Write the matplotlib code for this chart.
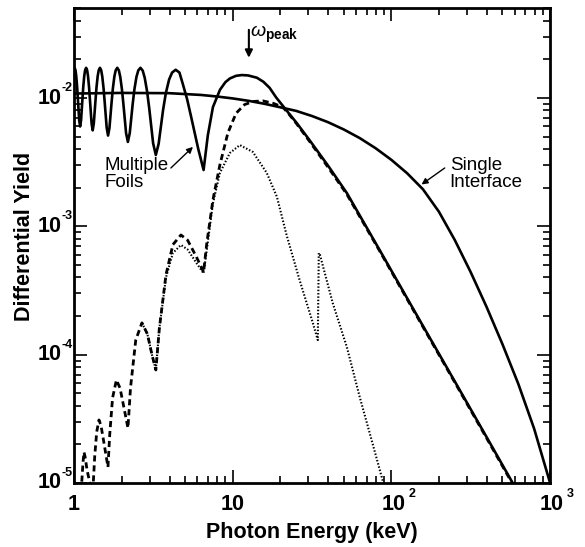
import matplotlib
matplotlib.use("Agg")
import matplotlib.pyplot as plt
from matplotlib.ticker import FixedLocator, LogLocator, NullFormatter

plt.rcParams['font.family'] = ['Liberation Sans', 'DejaVu Sans']
plt.rcParams['mathtext.fontset'] = 'custom'
plt.rcParams['mathtext.rm'] = 'Liberation Sans'
plt.rcParams['mathtext.it'] = 'Liberation Sans:italic'
plt.rcParams['mathtext.bf'] = 'Liberation Sans:bold'

# ---------------- data ----------------
# single interface (smooth solid)
single_x = [1.0, 2.0, 3.98, 6.31, 7.94, 10.0, 12.59, 15.85, 19.95, 25.12, 31.62,
            39.81, 50.12, 63.1, 79.43, 100.0, 125.9, 158.5, 199.5, 251.2, 316.2,
            398.1, 501.2, 631.0, 794.3, 1000.0]
single_y = [0.01084, 0.01096, 0.01091, 0.01057, 0.01028, 0.00993, 0.00951, 0.00902,
            0.00847, 0.00794, 0.00724, 0.00649, 0.00569, 0.00488, 0.00407, 0.00330,
            0.00259, 0.00194, 0.00130, 7.82e-4, 4.40e-4, 2.36e-4, 1.21e-4, 5.93e-5,
            2.65e-5, 1.007e-5]

# multiple foils (oscillating solid)
multi_x = [1.000, 1.0089, 1.0215, 1.0326, 1.0458, 1.0576, 1.0785, 1.0929,
           1.1077, 1.1306, 1.1444, 1.1606, 1.1752, 1.1923, 1.2099, 1.2256, 1.2442,
           1.2610, 1.2908, 1.3115,
           1.3328, 1.3661, 1.3864, 1.4102, 1.4318, 1.4573, 1.4837, 1.5074, 1.5356,
           1.5613, 1.6072, 1.6393,
           1.6728, 1.7256, 1.7581, 1.7966, 1.8318, 1.8737, 1.9175, 1.9573, 2.0052,
           2.0492, 2.1290, 2.1858,
           2.2457, 2.3419, 2.4021, 2.4746, 2.5419, 2.6233, 2.7100, 2.7902, 2.8885,
           2.9806, 3.1526, 3.2787,
           3.4153, 3.6430, 3.7908, 3.9746, 4.1511, 4.3725, 4.6189, 4.8567, 5.1626,
           5.4645, 6.0716, 6.5574,
           6.97, 7.51, 8.32, 9.0, 9.6, 10.5, 11.4, 12.5, 14.2, 15.6, 17.1, 18.8,
           20.7, 22.8, 25.3, 30.5, 40.0, 52.4, 84.6, 150.0, 250.0, 400.0, 582.0, 620.0]
multi_y = [0.01684, 0.0172, 0.01651, 0.01490, 0.01230, 0.00987, 0.00669, 0.0060,
           0.00669, 0.00987, 0.01230, 0.01490, 0.01651, 0.0172, 0.01648, 0.01481, 0.01213,
           0.00960, 0.00633, 0.0056,
           0.00633, 0.00960, 0.01213, 0.01481, 0.01648, 0.0172, 0.01645, 0.01471, 0.01190,
           0.00927, 0.00585, 0.0051,
           0.00585, 0.00927, 0.01190, 0.01471, 0.01645, 0.0172, 0.01642, 0.01459, 0.01166,
           0.00891, 0.00533, 0.00455,
           0.00533, 0.00891, 0.01166, 0.01459, 0.01642, 0.0172, 0.01636, 0.01440, 0.01125,
           0.00829, 0.00444, 0.0036,
           0.0044, 0.00808, 0.01091, 0.01392, 0.01579, 0.0166, 0.0158, 0.0128, 0.0098,
           0.0072, 0.0040, 0.00275,
           0.0051, 0.0085, 0.0116, 0.0133, 0.0142, 0.0149, 0.0151, 0.0150, 0.0144, 0.0134,
           0.0120, 0.0101, 0.0087, 0.0075, 0.0064, 0.0047, 0.00296, 0.00182, 6.5e-4,
           1.88e-4, 6.25e-5, 2.26e-5, 1.0e-5, 8.8e-6]

# dashed curve
dash_x = [1.093, 1.118, 1.14, 1.156, 1.175, 1.21, 1.26, 1.311, 1.323, 1.35, 1.39,
          1.437, 1.48, 1.55, 1.637, 1.68, 1.75, 1.85, 1.95, 2.07, 2.188, 2.27,
          2.45, 2.68, 2.9, 3.1, 3.28, 3.45, 3.8, 4.2, 4.72, 5.2, 5.9, 6.557,
          6.87, 7.51, 8.3, 9.33, 10.5, 11.9, 13.5, 15.5, 18.0, 20.7, 22.8, 25.3, 30.5,
          40.0, 52.4, 84.6, 150.0, 250.0, 400.0, 582.0, 620.0]
dash_y = [5e-6, 1.0e-5, 1.45e-5, 1.74e-5, 1.6e-5, 1.25e-5, 1.0e-5, 5e-6, 1.0e-5,
          1.6e-5, 2.5e-5, 3.1e-5, 2.8e-5, 2.0e-5, 1.33e-5, 2.4e-5, 4.6e-5, 6.35e-5,
          5.5e-5, 3.8e-5, 2.68e-5, 5.5e-5, 1.3e-4, 1.77e-4, 1.45e-4, 1.0e-4, 7.6e-5,
          1.6e-4, 4.2e-4, 7.2e-4, 8.57e-4, 7.8e-4, 5.8e-4, 4.41e-4,
          7.4e-4, 1.61e-3, 3.0e-3, 5.35e-3, 7.6e-3, 8.9e-3, 9.4e-3, 9.5e-3, 9.1e-3,
          8.5e-3, 7.4e-3, 6.3e-3, 4.6e-3, 2.88e-3, 1.78e-3, 6.4e-4, 1.85e-4, 6.15e-5,
          2.22e-5, 0.98e-5, 8.6e-6]

# dotted curve
dot_x = [2.68, 2.9, 3.1, 3.28, 3.45, 3.8, 4.2, 4.72, 5.2, 5.9, 6.557, 6.87, 7.5,
         8.31, 9.6, 11.1, 13.4, 16.4, 19.0, 21.9, 26.4, 32.0, 34.4, 34.9, 35.5,
         42.7, 52.4, 63.2, 76.0, 88.1, 92.0]
dot_y = [1.77e-4, 1.45e-4, 1.0e-4, 7.6e-5, 1.6e-4, 4.0e-4, 6.2e-4, 7.16e-4, 6.6e-4,
         5.2e-4, 4.3e-4, 6.55e-4, 1.5e-3, 2.61e-3, 3.73e-3, 4.3e-3, 3.8e-3, 2.61e-3,
         1.70e-3, 8.5e-4, 3.82e-4, 1.77e-4, 1.30e-4, 6.2e-4, 6.0e-4, 2.53e-4,
         1.15e-4, 4.68e-5, 2.05e-5, 1.05e-5, 8.5e-6]

x_ticks = [1, 10, 100, 1000]
x_tick_base = ['1', '10', '10', '10']
x_tick_exp = ['', '', '2', '3']
y_ticks = [1e-5, 1e-4, 1e-3, 1e-2]
y_tick_base = ['10', '10', '10', '10']
y_tick_exp = ['-5', '-4', '-3', '-2']

# ---------------- figure ----------------
W, H = 585, 547
PT = 0.72  # points per pixel at dpi 100
fig = plt.figure(figsize=(W / 100, H / 100), dpi=100)
L, R, T, B = 74, 550, 8, 483
ax = fig.add_axes([L / W, 1 - B / H, (R - L) / W, (B - T) / H])
ax.set_xscale('log')
ax.set_yscale('log')
ax.set_xlim(1, 1000)
ax.set_ylim(1e-5, 0.0503)

ax.plot(single_x, single_y, color='black', lw=1.9)
ax.plot(multi_x, multi_y, color='black', lw=1.9)
ax.plot(dash_x, dash_y, color='black', lw=2.0, ls=(0, (2.2, 1.4)))
ax.plot(dot_x, dot_y, color='black', lw=1.5, ls=(0, (0.7, 0.9)))

ax.xaxis.set_major_locator(FixedLocator(x_ticks))
ax.yaxis.set_major_locator(FixedLocator(y_ticks))
ax.xaxis.set_minor_locator(LogLocator(base=10, subs=range(2, 10)))
ax.yaxis.set_minor_locator(LogLocator(base=10, subs=range(2, 10)))
ax.xaxis.set_minor_formatter(NullFormatter())
ax.yaxis.set_minor_formatter(NullFormatter())

ax.tick_params(which='both', direction='in', top=True, right=True, width=1.2,
               labelbottom=False, labelleft=False)
ax.tick_params(which='major', length=9.5)
ax.tick_params(which='minor', length=5)
for s in ax.spines.values():
    s.set_linewidth(2.0)

# tick labels: "10" with a small raised exponent
BIG, SMALL = 15.5, 9
for v, b, e in zip(x_ticks, x_tick_base, x_tick_exp):
    dx = 2 if e else 0
    ax.annotate(b, xy=(v, 0), xycoords=('data', 'axes fraction'),
                xytext=(dx * PT, -22 * PT), textcoords='offset points',
                ha='center', va='center', fontsize=BIG, fontweight='bold')
    if e:
        ax.annotate(e, xy=(v, 0), xycoords=('data', 'axes fraction'),
                    xytext=(17 * PT, -11 * PT), textcoords='offset points',
                    ha='left', va='center', fontsize=SMALL, fontweight='bold')
for v, b, e in zip(y_ticks, y_tick_base, y_tick_exp):
    ax.annotate(b, xy=(0, v), xycoords=('axes fraction', 'data'),
                xytext=(-12 * PT, 0), textcoords='offset points',
                ha='right', va='center', fontsize=BIG, fontweight='bold')
    ax.annotate(e, xy=(0, v), xycoords=('axes fraction', 'data'),
                xytext=(-12 * PT, 10 * PT), textcoords='offset points',
                ha='left', va='center', fontsize=SMALL, fontweight='bold')

ax.set_xlabel('Photon Energy (keV)', fontsize=15.5, fontweight='bold')
ax.xaxis.set_label_coords(0.5, -0.082)
ax.set_ylabel('Differential Yield', fontsize=15.5, fontweight='bold')
ax.yaxis.set_label_coords(-0.082, 0.52)

# annotations
ax.annotate('', xy=(5.62, 4.16e-3), xytext=(4.08, 2.85e-3),
            arrowprops=dict(arrowstyle='-|>', color='black', lw=1.0, mutation_scale=9,
                            shrinkA=0, shrinkB=0))
ax.text(1.567, 3.45e-3, 'Multiple\nFoils', fontsize=13.5, ha='left', va='top',
        linespacing=1.0)

ax.annotate('', xy=(155, 2.12e-3), xytext=(217, 2.85e-3),
            arrowprops=dict(arrowstyle='-|>', color='black', lw=1.0, mutation_scale=9,
                            shrinkA=0, shrinkB=0))
ax.text(233, 3.5e-3, 'Single\nInterface', fontsize=13.5, ha='left', va='top',
        linespacing=1.0)

ax.annotate('', xy=(12.65, 0.0206), xytext=(12.65, 0.034),
            arrowprops=dict(arrowstyle='-|>', color='black', lw=1.5, mutation_scale=11,
                            shrinkA=0, shrinkB=0))
ax.text(12.9, 0.0299, r'$\omega_{\mathbf{peak}}$', fontsize=14, ha='left', va='baseline')

fig.savefig('out.png', dpi=100)
